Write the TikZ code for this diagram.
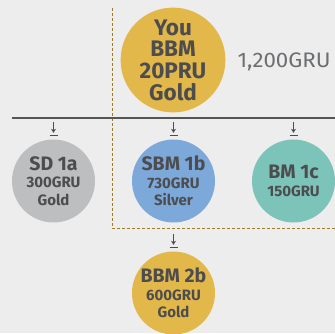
\documentclass[tikz,border=0pt]{standalone}
\usepackage{fontspec}
\usetikzlibrary{arrows.meta}
\setmainfont{Fira Sans}
\newfontfamily\widefont[FakeStretch=1.06]{Fira Sans}
\definecolor{bgc}{HTML}{EDEDED}
\definecolor{txt}{HTML}{4D4D4F}
\definecolor{sumc}{HTML}{6D6E71}
\definecolor{goldc}{HTML}{E3B84A}
\definecolor{greyc}{HTML}{BDBEC0}
\definecolor{bluec}{HTML}{7DA8DA}
\definecolor{tealc}{HTML}{7CC3BA}
\definecolor{dashc}{HTML}{9C7A2C}
\definecolor{rulec}{HTML}{555555}
\newcommand{\bigline}[1]{{\fontsize{19.5}{17}\selectfont #1}}
\begin{document}
\begin{tikzpicture}[x=1pt,y=-1pt,
  member/.style={circle,minimum size=83pt,inner sep=0pt,align=center,text=txt,
    font=\bfseries\fontsize{15}{17.5}\selectfont},
  drop/.style={draw=txt,line width=1.1pt,-{Stealth[length=4pt,width=5pt]}},
  bar/.style={draw=txt,line width=1.1pt},
  group/.style={draw=dashc,line width=0.7pt,dash pattern=on 3pt off 2pt}]
\useasboundingbox[fill=bgc] (0,0) rectangle (335,333);
% sponsor group outline
\draw[group] (112,8) -- (112,228) -- (335,228);
% upline member
\node[member,minimum size=104pt,fill=goldc,font=\bfseries\fontsize{22.5}{21.7}\selectfont] (you) at (173,60) {You\\BBM\\20PRU\\Gold};
\node[anchor=west,text=sumc,font=\widefont\fontsize{21}{21}\selectfont] (total) at (234,62) {1,200GRU};
% level line
\coordinate (la) at (12,118);
\coordinate (lb) at (335,118);
\draw[draw=rulec,line width=1.3pt] (la) -- (lb);
% first level
\node[member,fill=greyc] (sd) at (53.5,181) {\bigline{SD 1a}\\300GRU\\Gold};
\node[member,fill=bluec] (sbm) at (173.5,181) {\bigline{SBM 1b}\\730GRU\\Silver};
\node[member,fill=tealc] (bm) at (293.5,181) {\bigline{BM 1c}\\150GRU};
% second level
\node[member,fill=goldc] (bbm) at (173.5,293) {\bigline{BBM 2b}\\600GRU\\Gold};
% down markers above each member
\foreach \n in {sd,sbm,bm,bbm}{
  \draw[drop] ([yshift=17pt]\n.north) -- ([yshift=6.5pt]\n.north);
  \draw[bar] ([xshift=-4pt,yshift=4pt]\n.north) -- ([xshift=4pt,yshift=4pt]\n.north);
}
\end{tikzpicture}
\end{document}
